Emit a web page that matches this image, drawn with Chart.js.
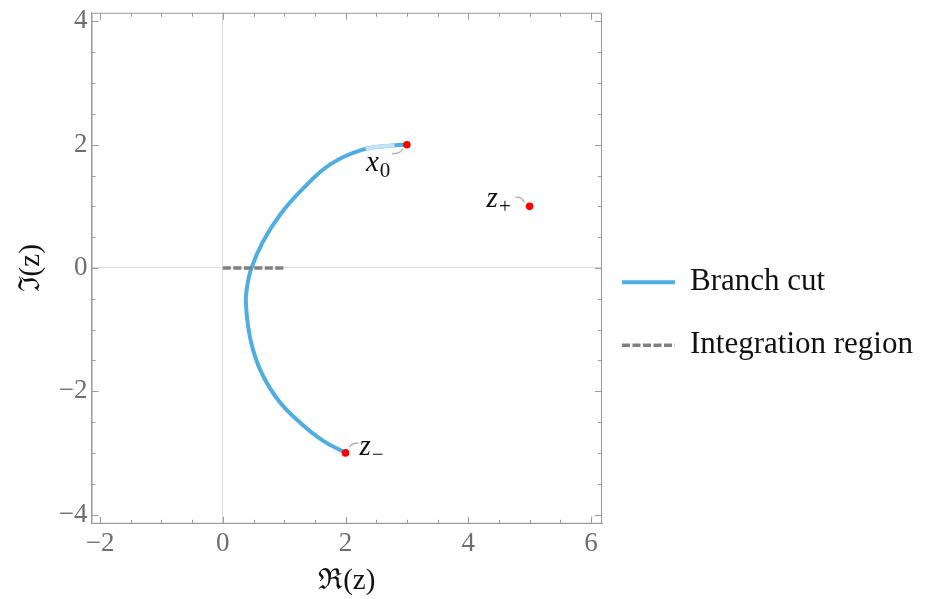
<!DOCTYPE html>
<html>

<head>
    <script src="https://cdn.jsdelivr.net/npm/chart.js@4.3.0/dist/chart.umd.min.js"></script>
    <style>
        body { margin: 0; background: #fff; }
        #wrap { width: 928px; height: 599px; }
    </style>
</head>

<body>
    <div id="wrap"><canvas id="myChart"></canvas></div>
    <script>
        const branchX = [2, 1.63, 1.26, 0.93, 0.65, 0.49, 0.41, 0.375, 0.39, 0.46, 0.65, 0.93, 1.31, 1.75, 2.28, 2.81, 3];
        const branchY = [-3, -2.80, -2.51, -2.18, -1.74, -1.32, -0.93, -0.55, -0.34, -0.02, 0.42, 0.86, 1.29, 1.68, 1.92, 1.99, 2];
        // pale stretch just before x0
        const paleX = [2.33, 2.55, 2.8];
        const paleY = [1.93, 1.97, 1.99];
        // integration region on the real axis
        const intX = [0, 1];
        const intY = [0, 0];
        // marked points
        const ptX = [3, 5, 2];
        const ptY = [2, 1, -3];
        const ptName = ['x', 'z', 'z'];
        const ptSub = ['0', '+', '\u2212'];
        // axes
        const xRange = [-2.14, 6.18];
        const yRange = [-4.15, 4.14];
        const xTicks = [-2, -1.5, -1, -0.5, 0, 0.5, 1, 1.5, 2, 2.5, 3, 3.5, 4, 4.5, 5, 5.5, 6];
        const yTicks = [-4, -3.5, -3, -2.5, -2, -1.5, -1, -0.5, 0, 0.5, 1, 1.5, 2, 2.5, 3, 3.5, 4];
        const majorTicks = [-4, -2, 0, 2, 4, 6];
        const legendNames = ['Branch cut', 'Integration region'];

        const serif = "'Liberation Serif', 'DejaVu Serif', serif";
        const frameColor = '#9a9a9a';

        function toPts(xs, ys) {
            return xs.map((x, i) => ({ x: x, y: ys[i] }));
        }

        function isMajor(v) {
            return majorTicks.indexOf(v) >= 0;
        }

        function fmt(v) {
            return v < 0 ? '\u2212' + Math.abs(v) : String(v);
        }

        // frame on top/right and inward ticks on all four sides
        const framePlugin = {
            id: 'frame',
            afterDraw(chart) {
                const ctx = chart.ctx;
                const a = chart.chartArea;
                const xs = chart.scales.x, ys = chart.scales.y;
                ctx.save();
                ctx.strokeStyle = frameColor;
                ctx.lineWidth = 1;
                ctx.strokeRect(a.left + 0.5, a.top + 0.5, a.right - a.left - 1, a.bottom - a.top - 1);
                ctx.beginPath();
                xTicks.forEach(v => {
                    const p = Math.round(xs.getPixelForValue(v)) + 0.5;
                    const len = isMajor(v) ? 7 : 4;
                    ctx.moveTo(p, a.bottom); ctx.lineTo(p, a.bottom - len);
                    ctx.moveTo(p, a.top); ctx.lineTo(p, a.top + len);
                });
                yTicks.forEach(v => {
                    const p = Math.round(ys.getPixelForValue(v)) + 0.5;
                    const len = isMajor(v) ? 7 : 4;
                    ctx.moveTo(a.left, p); ctx.lineTo(a.left + len, p);
                    ctx.moveTo(a.right, p); ctx.lineTo(a.right - len, p);
                });
                ctx.stroke();

                // legend to the right of the frame
                const y0 = (a.top + a.bottom) / 2 + 14;
                legendNames.forEach((name, i) => {
                    const ds = chart.data.datasets[i];
                    const y = y0 + i * 63;
                    ctx.strokeStyle = ds.borderColor;
                    ctx.lineWidth = ds.borderWidth;
                    ctx.setLineDash(ds.borderDash || []);
                    ctx.beginPath();
                    ctx.moveTo(a.right + 20, y);
                    ctx.lineTo(a.right + 73, y);
                    ctx.stroke();
                    ctx.setLineDash([]);
                    ctx.fillStyle = '#111';
                    ctx.font = '31px ' + serif;
                    ctx.textBaseline = 'middle';
                    ctx.textAlign = 'left';
                    ctx.fillText(name, a.right + 88, y);
                });
                ctx.restore();
            }
        };

        // point labels with little callout hooks
        const labelOffsets = [
            { tx: -41, ty: 26, hook: [-15, 9, -6, 9, -4, 4] },
            { tx: -43, ty: 1, hook: [-14, -9, -8, -10, -5, -4] },
            { tx: 14, ty: 2, hook: [4, -6, 6, -10, 13, -10] }
        ];
        const labelPlugin = {
            id: 'ptLabels',
            afterDatasetsDraw(chart) {
                const ctx = chart.ctx;
                const xs = chart.scales.x, ys = chart.scales.y;
                ctx.save();
                ptX.forEach((v, i) => {
                    const px = xs.getPixelForValue(v);
                    const py = ys.getPixelForValue(ptY[i]);
                    const o = labelOffsets[i];
                    const h = o.hook;
                    ctx.strokeStyle = '#b4b4b4';
                    ctx.lineWidth = 1.5;
                    ctx.beginPath();
                    ctx.moveTo(px + h[0], py + h[1]);
                    ctx.quadraticCurveTo(px + h[2], py + h[3], px + h[4], py + h[5]);
                    ctx.stroke();
                    ctx.fillStyle = '#111';
                    ctx.textBaseline = 'alphabetic';
                    ctx.textAlign = 'left';
                    ctx.font = 'italic 29px ' + serif;
                    const tx = px + o.tx, ty = py + o.ty;
                    ctx.fillText(ptName[i], tx, ty);
                    const w = ctx.measureText(ptName[i]).width;
                    ctx.font = '21px ' + serif;
                    ctx.fillText(ptSub[i], tx + w + 1, ty + 6);
                });
                ctx.restore();
            }
        };

        const axisCommon = {
            type: 'linear',
            border: { color: frameColor },
            grid: {
                drawTicks: false,
                color: c => (c.tick && c.tick.value === 0) ? '#dadada' : 'rgba(0,0,0,0)'
            },
            ticks: {
                autoSkip: false,
                color: '#6e6e6e',
                font: { family: serif, size: 27 },
                padding: 4,
                callback: v => isMajor(v) ? fmt(v) : ''
            }
        };

        new Chart(document.getElementById('myChart'), {
            type: 'scatter',
            data: {
                datasets: [{
                    label: 'Branch cut',
                    data: toPts(branchX, branchY),
                    showLine: true,
                    borderColor: '#4eaee3',
                    backgroundColor: '#4eaee3',
                    borderWidth: 4,
                    pointRadius: 0,
                    tension: 0.4,
                    order: 3
                }, {
                    label: 'Integration region',
                    data: toPts(intX, intY),
                    showLine: true,
                    borderColor: '#808080',
                    backgroundColor: '#808080',
                    borderWidth: 3.5,
                    borderDash: [8, 2.5],
                    pointRadius: 0,
                    order: 1
                }, {
                    label: 'pale',
                    data: toPts(paleX, paleY),
                    showLine: true,
                    borderColor: '#c4e1f5',
                    borderWidth: 4,
                    pointRadius: 0,
                    tension: 0.4,
                    order: 2
                }, {
                    label: 'points',
                    data: toPts(ptX, ptY),
                    showLine: false,
                    pointRadius: 3.8,
                    pointBackgroundColor: '#ff0000',
                    pointBorderWidth: 0,
                    order: 0
                }]
            },
            options: {
                responsive: true,
                maintainAspectRatio: false,
                animation: false,
                layout: { padding: { left: 14, top: 0, bottom: 0, right: 326 } },
                plugins: {
                    tooltip: { enabled: false },
                    legend: { display: false }
                },
                scales: {
                    x: Object.assign({}, axisCommon, {
                        min: xRange[0], max: xRange[1],
                        afterBuildTicks: s => { s.ticks = xTicks.map(v => ({ value: v })); },
                        ticks: Object.assign({}, axisCommon.ticks, { maxRotation: 0 }),
                        title: { display: true, text: '\u211C(z)', color: '#111', font: { family: serif, size: 29 }, padding: { top: 0, bottom: 0 } }
                    }),
                    y: Object.assign({}, axisCommon, {
                        min: yRange[0], max: yRange[1],
                        afterBuildTicks: s => { s.ticks = yTicks.map(v => ({ value: v })); },
                        ticks: Object.assign({}, axisCommon.ticks, { font: { family: serif, size: 27, lineHeight: 0.65 } }),
                        title: { display: true, text: '\u2111(z)', color: '#111', font: { family: serif, size: 29 }, padding: { top: 0, bottom: 6 } }
                    })
                }
            },
            plugins: [framePlugin, labelPlugin]
        });
    </script>
</body>

</html>
